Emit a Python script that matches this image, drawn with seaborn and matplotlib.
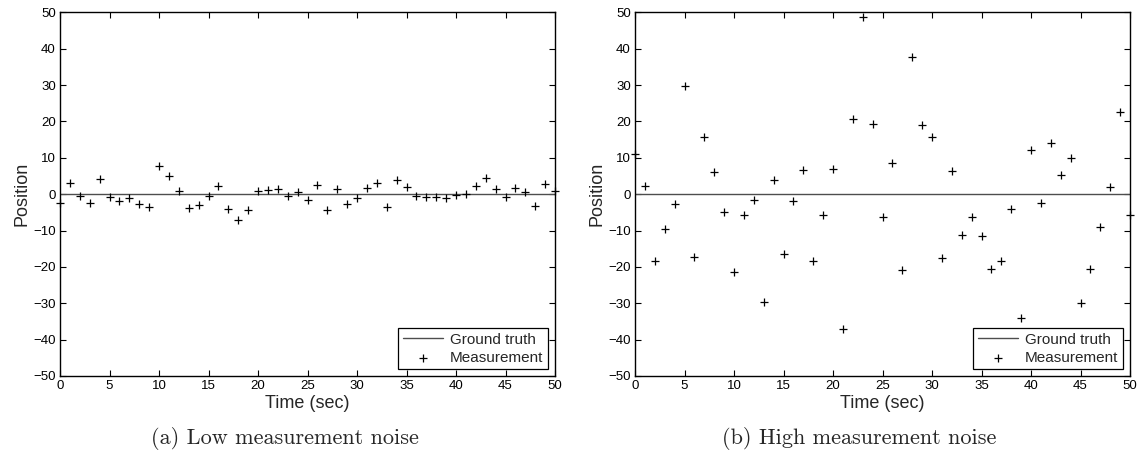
import numpy as np
import pandas as pd
import matplotlib
matplotlib.use("Agg")
import matplotlib.pyplot as plt
import seaborn as sns

# ---- data ----
time_sec = list(range(0, 51))
low_noise = [-2.5, 3.1, -0.5, -2.3, 4.1, -0.8, -1.9, -1.0, -2.8, -3.5,
             7.7, 5.0, 0.8, -3.9, -2.9, -0.6, 2.3, -4.2, -7.2, -4.4,
             1.0, 1.1, 1.3, -0.5, 0.6, -1.6, 2.5, -4.3, 1.3, -2.8,
             -1.1, 1.6, 3.1, -3.6, 3.8, 1.9, -0.4, -0.7, -0.7, -1.0,
             -0.1, 0.1, 2.3, 4.5, 1.3, -0.8, 1.8, 0.6, -3.3, 2.8, 0.9]
high_noise = [11.1, 2.3, -18.3, -9.5, -2.6, 29.6, -17.3, 15.7, 6.1, -4.8,
              -21.3, -5.8, -1.7, -29.6, 3.8, -16.5, -1.9, 6.7, -18.3, -5.8,
              6.9, -37.1, 20.8, 48.7, 19.3, -6.3, 8.5, -20.8, 37.7, 18.9,
              15.8, -17.6, 6.3, -11.2, -6.2, -11.5, -20.6, -18.3, -4.2, -34.1,
              12.1, -2.3, 14.0, 5.4, 9.9, -29.9, -20.5, -9.0, 2.1, 22.7, -5.7]
ground_truth = [0.0] * len(time_sec)
captions = ["(a) Low measurement noise", "(b) High measurement noise"]
x_ticks = list(range(0, 51, 5))
y_ticks = list(range(-50, 51, 10))

sns.set_style("ticks")
plt.rcParams['font.family'] = ['Liberation Sans', 'DejaVu Sans']
plt.rcParams['axes.unicode_minus'] = True

fig = plt.figure(figsize=(11.43, 4.59), dpi=100)
W, H = 1143, 459
panels = [(60, low_noise, captions[0]), (635, high_noise, captions[1])]

for left_px, meas, cap in panels:
    ax = fig.add_axes([left_px / W, (H - 376) / H, 495 / W, (376 - 12.3) / H])
    df = pd.DataFrame({"t": time_sec, "meas": meas, "gt": ground_truth})
    sns.lineplot(data=df, x="t", y="gt", ax=ax, color="#4d4d4d", lw=1.0,
                 label="Ground truth")
    sns.scatterplot(data=df, x="t", y="meas", ax=ax, marker="+", color="black",
                    s=36, linewidth=0.9, label="Measurement", clip_on=False, zorder=3)
    ax.set_xlim(0, 50)
    ax.set_ylim(-50, 50)
    ax.set_xticks(x_ticks)
    ax.set_yticks(y_ticks)
    ax.tick_params(direction="in", top=True, right=True, length=4, width=0.8,
                   labelsize=9.5, colors="black", pad=3)
    for sp in ax.spines.values():
        sp.set_visible(True)
        sp.set_linewidth(1.0)
        sp.set_color("black")
    ax.set_xlabel("Time (sec)", fontsize=13, labelpad=2)
    ax.set_ylabel("Position", fontsize=13, labelpad=2)
    leg = ax.legend(loc="lower right", fontsize=11, frameon=True, fancybox=False,
                    edgecolor="black", framealpha=1, borderpad=0.3,
                    handlelength=2.6, handletextpad=0.5, labelspacing=0.25,
                    borderaxespad=0.45)
    leg.get_frame().set_linewidth(0.9)
    cx = (left_px + 247.5 - 23) / W
    fig.text(cx, 1 - 439 / H, cap, ha="center", va="center",
             family=["cmr10", "DejaVu Serif"], fontsize=16)

fig.savefig("out.png", dpi=100)
